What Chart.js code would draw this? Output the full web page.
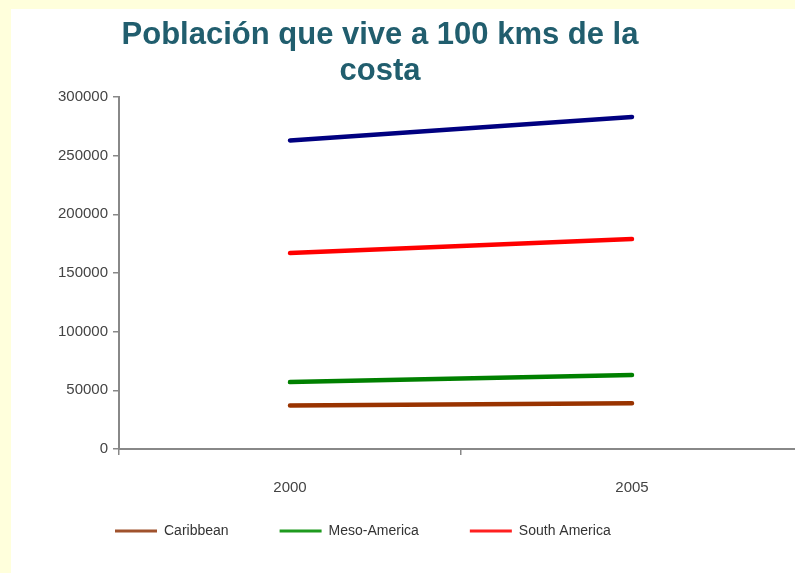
<!DOCTYPE html>
<html>
<head>
<meta charset="utf-8">
<script src="https://cdn.jsdelivr.net/npm/chart.js@4.4.0/dist/chart.umd.min.js"></script>
<style>
  body { margin: 0; background: #FFFFDC; overflow: hidden; width: 795px; height: 573px; position: relative; }
  #chart { position: absolute; left: 11px; top: 9px; background: #fff; }
  #title {
    position: absolute; left: 11px; top: 16px; width: 738px;
    text-align: center; font: bold 31px "Liberation Sans", Arial, sans-serif;
    line-height: 36px; color: #215E6E;
  }
</style>
</head>
<body>
<canvas id="chart" width="800" height="564"></canvas>
<div id="title">Población que vive a 100 kms de la<br>costa</div>
<script>
// Población costera (miles)
const years = ['2000', '2005'];
const caribbean = [37000, 39000];
const mesoAmerica = [57000, 63000];
const southAmerica = [167000, 179000];
const total = [263000, 283000];

const axisColor = '#888888';
const tickFont = { family: 'Liberation Sans, Arial, sans-serif', size: 15 };

// nudge the legend up/right so it sits like the original (its padding is used for item spacing)
const legendNudge = {
  id: 'legendNudge',
  afterLayout(chart) {
    const lg = chart.legend;
    lg.top -= 24; lg.bottom -= 24;
    lg.left += 6; lg.right += 6;
  }
};

new Chart(document.getElementById('chart'), {
  type: 'line',
  data: {
    labels: years,
    datasets: [
      { label: 'Caribbean', data: caribbean, borderColor: '#993300', backgroundColor: '#A0522D' },
      { label: 'Meso-America', data: mesoAmerica, borderColor: '#008000', backgroundColor: '#1E9A1E' },
      { label: 'South America', data: southAmerica, borderColor: '#FF0000', backgroundColor: '#FF2020' },
      { label: 'Total', data: total, borderColor: '#000080', backgroundColor: '#000080' }
    ]
  },
  plugins: [legendNudge],
  options: {
    responsive: false,
    animation: false,
    layout: { padding: { top: 88, left: 47, right: 8, bottom: 1 } },
    elements: {
      line: { borderWidth: 4.5, tension: 0, borderCapStyle: 'round' },
      point: { radius: 0, hoverRadius: 0 }
    },
    plugins: {
      title: { display: false },
      tooltip: { enabled: false },
      legend: {
        position: 'bottom',
        align: 'start',
        labels: {
          boxWidth: 42,
          boxHeight: 3,
          padding: 51,
          color: '#333333',
          font: { family: 'Liberation Sans, Arial, sans-serif', size: 14 },
          filter: item => item.text !== 'Total',
          generateLabels: chart => Chart.defaults.plugins.legend.labels.generateLabels(chart)
            .map(l => ({ ...l, fillStyle: chart.data.datasets[l.datasetIndex].backgroundColor, lineWidth: 0 }))
        }
      }
    },
    scales: {
      x: {
        offset: true,
        afterFit: s => { s.height = 48; },
        border: { color: axisColor, width: 2 },
        grid: { offset: true, drawOnChartArea: false, tickLength: 6, color: axisColor, lineWidth: 1.5 },
        ticks: { color: '#444444', font: tickFont, padding: 24 }
      },
      y: {
        min: 0,
        max: 300000,
        afterFit: s => { s.width = 61; },
        border: { color: axisColor, width: 2 },
        grid: { drawOnChartArea: false, tickLength: 6, color: axisColor, lineWidth: 1.5 },
        ticks: { stepSize: 50000, color: '#444444', font: tickFont, padding: 5, callback: v => String(v) }
      }
    }
  }
});
</script>
</body>
</html>
